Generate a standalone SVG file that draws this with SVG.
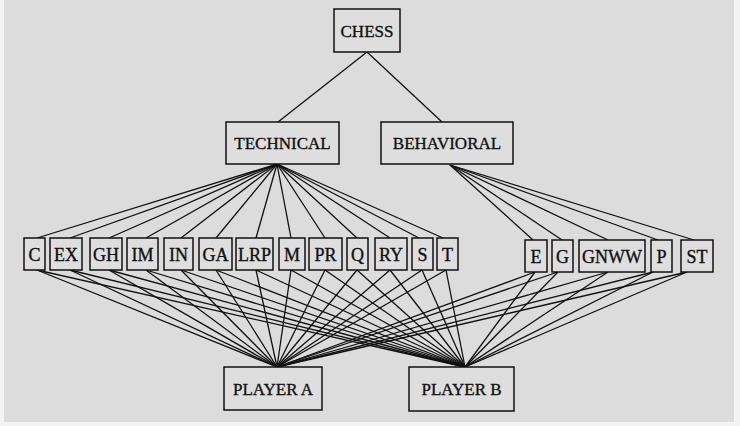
<svg xmlns="http://www.w3.org/2000/svg" width="740" height="426" viewBox="0 0 740 426">
<style>
.bx{fill:#dedede;stroke:#111;stroke-width:1.5}
.t{font-family:"Liberation Serif","Times New Roman",serif;font-size:17px;fill:#111;stroke:#111;stroke-width:0.35;text-anchor:middle}
.s{font-size:18px}
.c line{stroke:#111;stroke-width:1.3}
</style>
<rect x="0" y="0" width="740" height="426" fill="#f4f4f4"/>
<rect x="4" y="0" width="730" height="422" fill="#dcdcdc"/>
<g class="c" id="connectors">
<line x1="367" y1="52" x2="278" y2="122"/>
<line x1="367" y1="52" x2="442" y2="122"/>
<line x1="277" y1="164" x2="37" y2="238"/>
<line x1="277" y1="164" x2="70" y2="238"/>
<line x1="277" y1="164" x2="109" y2="238"/>
<line x1="277" y1="164" x2="146" y2="238"/>
<line x1="277" y1="164" x2="181" y2="238"/>
<line x1="277" y1="164" x2="216" y2="238"/>
<line x1="277" y1="164" x2="256" y2="238"/>
<line x1="277" y1="164" x2="291" y2="238"/>
<line x1="277" y1="164" x2="325" y2="238"/>
<line x1="277" y1="164" x2="357" y2="238"/>
<line x1="277" y1="164" x2="390" y2="238"/>
<line x1="277" y1="164" x2="419" y2="238"/>
<line x1="277" y1="164" x2="443" y2="238"/>
<line x1="450" y1="165" x2="533" y2="240"/>
<line x1="450" y1="165" x2="562" y2="240"/>
<line x1="450" y1="165" x2="608" y2="240"/>
<line x1="450" y1="165" x2="658" y2="240"/>
<line x1="450" y1="165" x2="694" y2="240"/>
<line x1="37" y1="270" x2="277" y2="367"/><line x1="37" y1="270" x2="465" y2="367"/>
<line x1="70" y1="270" x2="277" y2="367"/><line x1="70" y1="270" x2="465" y2="367"/>
<line x1="109" y1="270" x2="277" y2="367"/><line x1="109" y1="270" x2="465" y2="367"/>
<line x1="146" y1="270" x2="277" y2="367"/><line x1="146" y1="270" x2="465" y2="367"/>
<line x1="181" y1="270" x2="277" y2="367"/><line x1="181" y1="270" x2="465" y2="367"/>
<line x1="216" y1="270" x2="277" y2="367"/><line x1="216" y1="270" x2="465" y2="367"/>
<line x1="256" y1="270" x2="277" y2="367"/><line x1="256" y1="270" x2="465" y2="367"/>
<line x1="291" y1="270" x2="277" y2="367"/><line x1="291" y1="270" x2="465" y2="367"/>
<line x1="325" y1="270" x2="277" y2="367"/><line x1="325" y1="270" x2="465" y2="367"/>
<line x1="357" y1="270" x2="277" y2="367"/><line x1="357" y1="270" x2="465" y2="367"/>
<line x1="390" y1="270" x2="277" y2="367"/><line x1="390" y1="270" x2="465" y2="367"/>
<line x1="422" y1="270" x2="277" y2="367"/><line x1="422" y1="270" x2="465" y2="367"/>
<line x1="446" y1="270" x2="277" y2="367"/><line x1="446" y1="270" x2="465" y2="367"/>
<line x1="535" y1="272" x2="277" y2="367"/><line x1="535" y1="272" x2="465" y2="367"/>
<line x1="558" y1="272" x2="277" y2="367"/><line x1="558" y1="272" x2="465" y2="367"/>
<line x1="608" y1="272" x2="277" y2="367"/><line x1="608" y1="272" x2="465" y2="367"/>
<line x1="653" y1="272" x2="277" y2="367"/><line x1="653" y1="272" x2="465" y2="367"/>
<line x1="687" y1="272" x2="277" y2="367"/><line x1="687" y1="272" x2="465" y2="367"/>
</g>
<g id="chess"><rect class="bx" x="334" y="9" width="66" height="43"/><text class="t" x="367" y="37">CHESS</text></g>
<g id="technical"><rect class="bx" x="226" y="122" width="113" height="42"/><text class="t" x="282.5" y="149">TECHNICAL</text></g>
<g id="behavioral"><rect class="bx" x="381" y="122" width="132" height="42"/><text class="t" x="447" y="149">BEHAVIORAL</text></g>
<g id="n-C"><rect class="bx" x="24" y="238" width="21" height="32"/><text class="t s" x="34.5" y="261">C</text></g>
<g id="n-EX"><rect class="bx" x="50" y="238" width="32" height="32"/><text class="t s" x="66" y="261">EX</text></g>
<g id="n-GH"><rect class="bx" x="90" y="238" width="32" height="32"/><text class="t s" x="106" y="261">GH</text></g>
<g id="n-IM"><rect class="bx" x="127" y="238" width="31" height="32"/><text class="t s" x="142.5" y="261">IM</text></g>
<g id="n-IN"><rect class="bx" x="164" y="238" width="29" height="32"/><text class="t s" x="178.5" y="261">IN</text></g>
<g id="n-GA"><rect class="bx" x="199" y="238" width="33" height="32"/><text class="t s" x="215.5" y="261">GA</text></g>
<g id="n-LRP"><rect class="bx" x="236" y="238" width="37" height="32"/><text class="t s" x="254.5" y="261">LRP</text></g>
<g id="n-M"><rect class="bx" x="279" y="238" width="26" height="32"/><text class="t s" x="292" y="261">M</text></g>
<g id="n-PR"><rect class="bx" x="309" y="238" width="33" height="32"/><text class="t s" x="325.5" y="261">PR</text></g>
<g id="n-Q"><rect class="bx" x="347" y="238" width="21" height="32"/><text class="t s" x="357.5" y="261">Q</text></g>
<g id="n-RY"><rect class="bx" x="375" y="238" width="32" height="32"/><text class="t s" x="391" y="261">RY</text></g>
<g id="n-S"><rect class="bx" x="412" y="238" width="21" height="32"/><text class="t s" x="422.5" y="261">S</text></g>
<g id="n-T"><rect class="bx" x="437" y="238" width="21" height="32"/><text class="t s" x="447.5" y="261">T</text></g>
<g id="n-E"><rect class="bx" x="525" y="240" width="22" height="32"/><text class="t s" x="536" y="263">E</text></g>
<g id="n-G"><rect class="bx" x="552" y="240" width="21" height="32"/><text class="t s" x="562.5" y="263">G</text></g>
<g id="n-GNWW"><rect class="bx" x="579" y="240" width="66" height="32"/><text class="t s" x="612" y="263">GNWW</text></g>
<g id="n-P"><rect class="bx" x="651" y="240" width="21" height="32"/><text class="t s" x="661.5" y="263">P</text></g>
<g id="n-ST"><rect class="bx" x="681" y="240" width="32" height="32"/><text class="t s" x="697" y="263">ST</text></g>
<g id="playerA"><rect class="bx" x="224" y="367" width="98" height="43"/><text class="t" x="273" y="395">PLAYER A</text></g>
<g id="playerB"><rect class="bx" x="409" y="367" width="105" height="44"/><text class="t" x="461.5" y="395">PLAYER B</text></g>
</svg>
